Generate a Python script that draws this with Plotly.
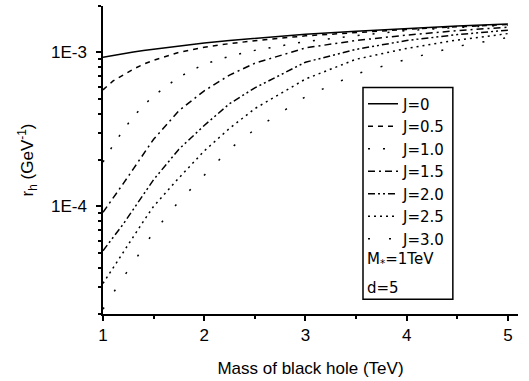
import math
import plotly.graph_objects as go

# Mass of black hole (TeV)
M = [1.0, 1.1, 1.2, 1.3, 1.4, 1.5, 1.75, 2.0, 2.25, 2.5, 3.0, 3.5, 4.0, 4.5, 5.0]

# horizon radius r_h (GeV^-1)
r_J00 = [9.29e-4, 9.57e-4, 9.83e-4, 1.007e-3, 1.029e-3, 1.050e-3, 1.103e-3, 1.150e-3, 1.193e-3, 1.233e-3, 1.311e-3, 1.371e-3, 1.432e-3, 1.483e-3, 1.530e-3]
r_J05 = [5.71e-4, 6.52e-4, 7.12e-4, 7.78e-4, 8.38e-4, 8.89e-4, 1.0e-3, 1.08e-3, 1.14e-3, 1.19e-3, 1.28e-3, 1.345e-3, 1.41e-3, 1.465e-3, 1.515e-3]
r_J10 = [1.94e-4, 2.50e-4, 3.12e-4, 3.83e-4, 4.51e-4, 5.22e-4, 6.91e-4, 8.38e-4, 9.43e-4, 1.030e-3, 1.176e-3, 1.285e-3, 1.384e-3, 1.450e-3, 1.500e-3]
r_J15 = [9.15e-5, 1.125e-4, 1.404e-4, 1.752e-4, 2.186e-4, 2.728e-4, 4.185e-4, 5.623e-4, 7.12e-4, 8.50e-4, 1.069e-3, 1.194e-3, 1.295e-3, 1.384e-3, 1.457e-3]
r_J20 = [5.15e-5, 6.24e-5, 7.67e-5, 9.57e-5, 1.194e-4, 1.489e-4, 2.35e-4, 3.35e-4, 4.64e-4, 5.88e-4, 8.63e-4, 1.045e-3, 1.194e-3, 1.304e-3, 1.394e-3]
r_J25 = [3.16e-5, 4.00e-5, 5.07e-5, 6.42e-5, 8.01e-5, 1.0e-4, 1.53e-4, 2.29e-4, 3.21e-4, 4.31e-4, 6.71e-4, 9.02e-4, 1.061e-3, 1.203e-3, 1.324e-3]
r_J30 = [2.15e-5, 2.73e-5, 3.46e-5, 4.31e-5, 5.46e-5, 6.81e-5, 1.077e-4, 1.60e-4, 2.35e-4, 3.16e-4, 5.15e-4, 7.23e-4, 9.02e-4, 1.093e-3, 1.248e-3]

series_names = ["J=0", "J=0.5", "J=1.0", "J=1.5", "J=2.0", "J=2.5", "J=3.0"]
series_values = [r_J00, r_J05, r_J10, r_J15, r_J20, r_J25, r_J30]
dash_styles = ["solid", "5px,5px", "2px,13px", "7px,4px,2px,4px",
               "7px,3px,2px,3px,2px,3px", "2px,4px", "2px,19px"]

x_tickvals = [1, 2, 3, 4, 5]
x_minor = [1.5, 2.5, 3.5, 4.5]
y_tickvals = [1e-4, 1e-3]
y_ticktext = ["1E-4", "1E-3"]
y_minor = [k * 10.0 ** e for e in (-5, -4, -3) for k in range(2, 10) if 2e-5 <= k * 10.0 ** e <= 2e-3]

fig = go.Figure()
for name, vals, dsh in zip(series_names, series_values, dash_styles):
    fig.add_trace(go.Scatter(x=M, y=vals, mode="lines", name=name,
                             line=dict(color="black", width=1.5, dash=dsh)))

AX_FONT = dict(family="Liberation Sans, Arial, sans-serif", size=17, color="black")

fig.update_layout(
    width=529, height=381, autosize=False,
    margin=dict(l=103, r=11, t=6, b=65),
    paper_bgcolor="white", plot_bgcolor="white",
    font=AX_FONT,
    showlegend=True,
    legend=dict(x=0.6265, y=0.735, xanchor="left", yanchor="top",
                bgcolor="rgba(0,0,0,0)", borderwidth=0,
                font=dict(family="DejaVu Sans, sans-serif", size=15, color="black"),
                tracegroupgap=0),
    xaxis=dict(range=[1, 5.1], tickmode="array", tickvals=x_tickvals,
               ticks="outside", ticklen=5, tickwidth=1.5, tickcolor="black",
               showline=True, linewidth=1.5, linecolor="black",
               showgrid=False, zeroline=False,
               minor=dict(tickmode="array", tickvals=x_minor, ticks="outside",
                          ticklen=3, tickwidth=1.5, tickcolor="black", showgrid=False),
               title=dict(text="Mass of black hole (TeV)", font=AX_FONT, standoff=18),
               tickfont=AX_FONT),
    yaxis=dict(type="log", range=[math.log10(2e-5), math.log10(2e-3)],
               tickmode="array", tickvals=y_tickvals, ticktext=y_ticktext,
               ticks="outside", ticklen=5, tickwidth=1.5, tickcolor="black",
               showline=True, linewidth=1.5, linecolor="black",
               showgrid=False, zeroline=False, ticklabelstandoff=6,
               minor=dict(tickmode="array", tickvals=y_minor, ticks="outside",
                          ticklen=3, tickwidth=1.5, tickcolor="black", showgrid=False),
               title=dict(text="r<sub>h</sub> (GeV<sup>-1</sup>)", font=AX_FONT, standoff=13),
               tickfont=AX_FONT),
    shapes=[dict(type="rect", xref="paper", yref="paper",
                 x0=0.6265, x1=0.843, y0=0.048, y1=0.735,
                 line=dict(color="black", width=1.5), fillcolor="rgba(0,0,0,0)")],
    annotations=[
        dict(text="M<sub>*</sub>=1TeV", xref="paper", yref="paper", x=0.631, y=0.177,
             xanchor="left", yanchor="middle", showarrow=False,
             font=dict(family="DejaVu Sans, sans-serif", size=15, color="black")),
        dict(text="d=5", xref="paper", yref="paper", x=0.631, y=0.084,
             xanchor="left", yanchor="middle", showarrow=False,
             font=dict(family="DejaVu Sans, sans-serif", size=15, color="black")),
    ],
)

fig.write_html("out.html")
